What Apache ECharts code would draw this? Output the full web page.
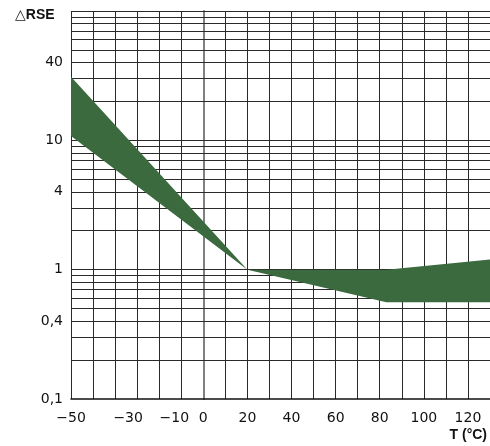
<!DOCTYPE html>
<html><head><meta charset="utf-8">
<script src="https://cdn.jsdelivr.net/npm/echarts@6/dist/echarts.min.js"></script>
<style>html,body{margin:0;padding:0;background:#fff}#c{width:490px;height:446px}</style>
</head><body><div id="c"></div>
<script>
// Band of ΔRSE vs temperature
const temperatures = [-60, 20, 83, 130];
const upperRSE = [31, 1.0, 1.0, 1.2];
const lowerRSE = [10.8, 1.0, 0.56, 0.56];
// Tick labels
const xTickLabels = [-50, -30, -10, 0, 20, 40, 60, 80, 100, 120];
const yTickLabels = [0.1, 0.4, 1, 4, 10, 40];
// Horizontal (log) grid values
const yGridValues = [0.2,0.3,0.4,0.5,0.6,0.7,0.8,0.9,1,2,3,4,5,6,7,8,9,10,20,30,40,50,60,70,80,90,100];

const chart = echarts.init(document.getElementById('c'), null, {renderer: 'canvas'});
const LBL = 'DejaVu Sans';

function fmtX(v) {
  if (!xTickLabels.includes(v)) return '';
  const s = v < 0 ? '\u2212' + Math.abs(v) : String(v);
  if (v === -50) return '{a|' + s + '}';
  if (v === -30) return '{b|' + s + '}';
  if (v === -10) return '{c|' + s + '}';
  return '{n|' + s + '}';
}
const base = {fontSize: 14, fontFamily: LBL, color: '#111'};

const bandPoints = [];
for (let i = 0; i < temperatures.length; i++) bandPoints.push([temperatures[i], upperRSE[i]]);
for (let i = temperatures.length - 1; i >= 0; i--) bandPoints.push([temperatures[i], lowerRSE[i]]);

chart.setOption({
  animation: false,
  backgroundColor: '#fff',
  grid: {left: 71, right: 0, top: 11, bottom: 47, containLabel: false, outerBoundsMode: 'none'},
  xAxis: {
    type: 'value', min: -60, max: 130, interval: 10,
    axisLine: {show: true, onZero: false, lineStyle: {color: '#111', width: 1.5}},
    axisTick: {show: false},
    splitLine: {show: true, lineStyle: {color: '#2a2a2a', width: 1}},
    axisLabel: {
      margin: 12, formatter: fmtX, showMinLabel: true, showMaxLabel: true,
      rich: {
        a: Object.assign({padding: [0, 44, 0, 0]}, base),
        b: Object.assign({padding: [0, 18, 0, 0]}, base),
        c: Object.assign({padding: [0, 14, 0, 0]}, base),
        n: base
      }
    }
  },
  yAxis: {
    type: 'log', logBase: 10, min: 0.1, max: 100,
    axisLine: {show: true, lineStyle: {color: '#808080', width: 2}},
    axisTick: {show: false},
    splitLine: {show: false},
    axisLabel: {
      margin: 8, fontSize: 14, fontFamily: LBL, color: '#111',
      customValues: yTickLabels,
      formatter: v => String(+v.toPrecision(6)).replace('.', ',')
    }
  },
  graphic: [
    {type: 'text', left: 15, top: 8, z: 10, style: {
      text: '{t|\u25B3}{r|RSE}',
      rich: {
        t: {fontSize: 14, fontFamily: 'DejaVu Sans', fill: '#222', color: '#222'},
        r: {fontSize: 14, fontWeight: 'bold', fontFamily: 'Liberation Sans', fill: '#111', color: '#111'}
      }
    }},
    {type: 'text', right: 3, top: 428, z: 10, style: {
      text: 'T (°C)', font: "bold 14px 'Liberation Sans'", fill: '#111'
    }}
  ],
  series: [
    {
      type: 'line', data: [], silent: true, z: 1,
      markLine: {
        silent: true, symbol: ['none', 'none'], animation: false,
        label: {show: false},
        lineStyle: {color: '#2a2a2a', width: 1, type: 'solid'},
        emphasis: {disabled: true},
        data: yGridValues.map(v => ({yAxis: v}))
      }
    },
    {
      type: 'custom', z: 5, silent: true, clip: true,
      data: [0],
      renderItem: function (params, api) {
        const pts = bandPoints.map(p => api.coord(p));
        return {type: 'polygon', shape: {points: pts}, style: {fill: '#3a6a3e', stroke: null}};
      }
    }
  ]
});
</script></body></html>
